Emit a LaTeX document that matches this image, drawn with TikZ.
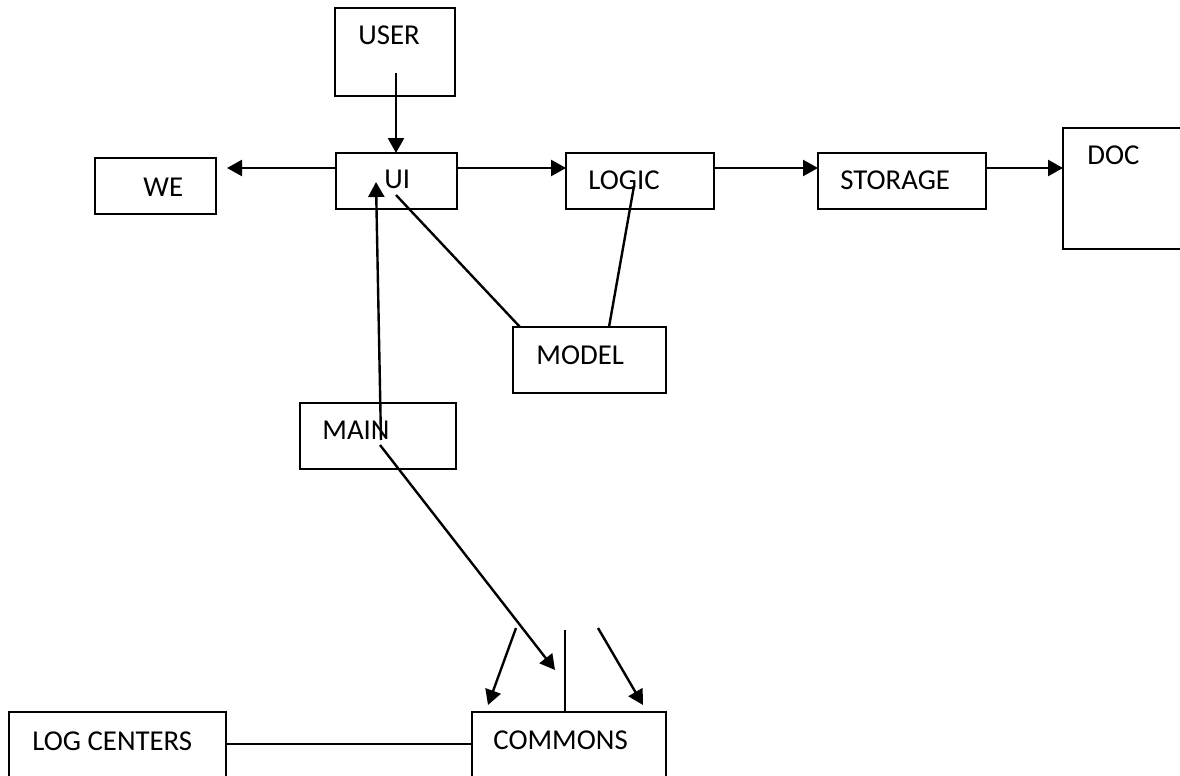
\documentclass[tikz,border=0pt]{standalone}
\usepackage{fontspec}
\setmainfont{Carlito}
\usetikzlibrary{arrows.meta,calc,fit}
\begin{document}
\begin{tikzpicture}[x=0.5pt,y=-0.5pt,
  box/.style={draw=black,line width=1.1pt,inner sep=0pt,outer sep=0pt},
  lbl/.style={inner sep=0pt,anchor=base west,font=\fontsize{14.4}{17}\selectfont},
  arr/.style={line width=1.2pt,-{Triangle[length=7.5pt,width=8pt]}},
  link/.style={line width=1.2pt},
  thin link/.style={line width=0.8pt}]
\clip (0,0) rectangle (1180,776);

% boxes
\node[box,fit={(335,8) (455,96)}] (user) {};
\node[box,fit={(95,158) (216,214)}] (we) {};
\node[box,fit={(336,153) (457,209)}] (ui) {};
\node[box,fit={(566,153) (714,209)}] (logic) {};
\node[box,fit={(818,153) (986,209)}] (storage) {};
\node[box,fit={(1063,128) (1220,249)}] (doc) {};
\node[box,fit={(513,327) (666,393)}] (model) {};
\node[box,fit={(300,403) (456,469)}] (main) {};
\node[box,fit={(9,712) (226,820)}] (logc) {};
\node[box,fit={(472,712) (666,820)}] (commons) {};

% texts
\node[lbl] (user-t) at (358,45) {USER};
\node[lbl] (we-t) at (143,196) {WE};
\node[lbl] (ui-t) at (384,188) {UI};
\node[lbl] (logic-t) at (588,189) {LOGIC};
\node[lbl] (storage-t) at (840,189) {STORAGE};
\node[lbl] (doc-t) at (1087,164) {DOC};
\node[lbl] (model-t) at (536,364) {MODEL};
\node[lbl] (main-t) at (322,439) {MAIN};
\node[lbl] (logc-t) at (32,750) {LOG CENTERS};
\node[lbl] (commons-t) at (493,749) {COMMONS};

% free connector ends
\coordinate (user-src) at (396,73);
\coordinate (row) at (227,168);
\coordinate (ui-a) at (396,195);
\coordinate (logic-a) at (634,186);
\coordinate (main-a) at (381,440);
\coordinate (ui-tip) at (376,182);
\coordinate (main-b) at (380,445);
\coordinate (cm-tip) at (555,670);
\coordinate (l-src) at (516,628);
\coordinate (l-tip) at (488,705);
\coordinate (r-src) at (598,628);
\coordinate (r-tip) at (643,705);
\coordinate (v-src) at (565,630);
\coordinate (bottom-row) at (0,744);

% connectors
\draw[arr] (user-src) -- (ui.north -| user-src);
\draw[arr] (ui.west |- row) -- (row);
\draw[arr] (ui.east |- row) -- (logic.west |- row);
\draw[arr] (logic.east |- row) -- (storage.west |- row);
\draw[arr] (storage.east |- row) -- (doc.west |- row);
\draw[link] (ui-a) -- ($(model.north west)+(7,0)$);
\draw[link] (logic-a) -- ($(model.north west)+(96,0)$);
\draw[arr] (main-a) -- (ui-tip);
\draw[arr] (main-b) -- (cm-tip);
\draw[arr] (l-src) -- (l-tip);
\draw[arr] (r-src) -- (r-tip);
\draw[link] (v-src) -- (commons.north -| v-src);
\draw[thin link] (logc.east |- bottom-row) -- (commons.west |- bottom-row);
\end{tikzpicture}
\end{document}
